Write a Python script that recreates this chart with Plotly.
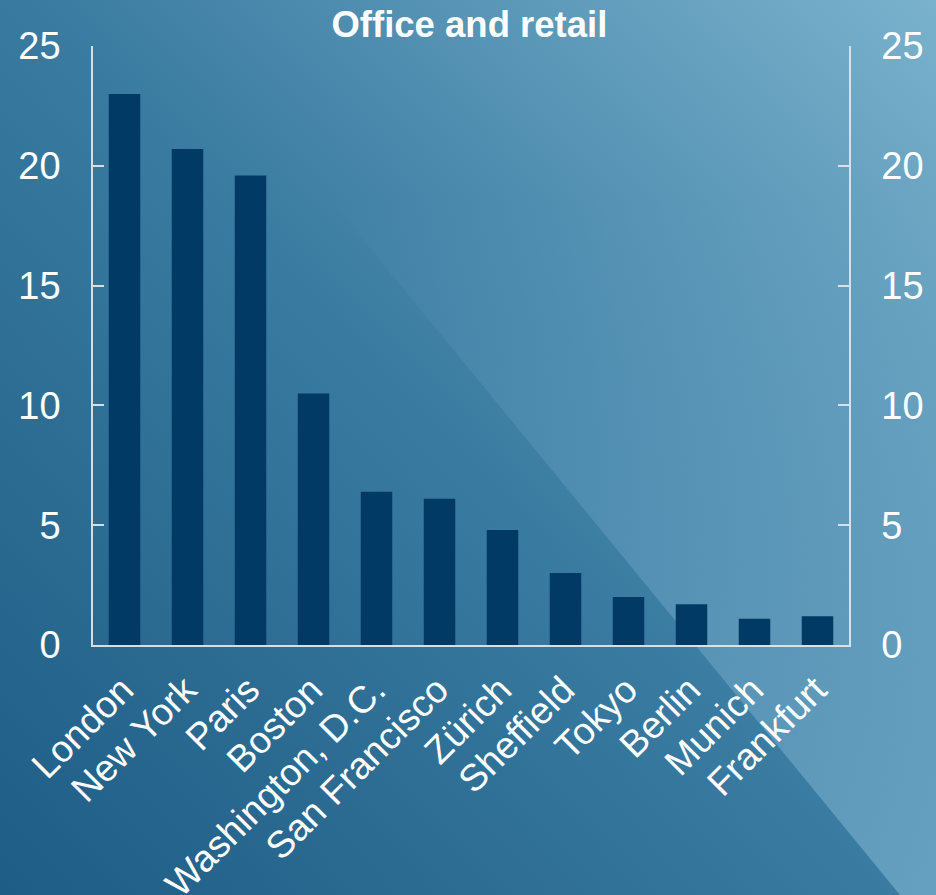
import base64
import plotly.graph_objects as go

cities = ["London", "New York", "Paris", "Boston", "Washington, D.C.", "San Francisco",
          "Zürich", "Sheffield", "Tokyo", "Berlin", "Munich", "Frankfurt"]
values = [23.0, 20.7, 19.6, 10.5, 6.4, 6.1, 4.8, 3.0, 2.0, 1.7, 1.1, 1.2]
y_ticks = [0, 5, 10, 15, 20, 25]
title_text = "Office and retail"

W, H = 936, 895
ml, mr, mt, mb = 93, 87, 46, 250
pw, ph = W - ml - mr, H - mt - mb

svg = f'''<svg xmlns="http://www.w3.org/2000/svg" width="{W}" height="{H}" viewBox="0 0 {W} {H}">
<defs>
<linearGradient id="g" gradientUnits="userSpaceOnUse" x1="0" y1="{H}" x2="{W}" y2="0">
<stop offset="0" stop-color="#1e5d85"/>
<stop offset="0.5" stop-color="#3a7ba1"/>
<stop offset="1" stop-color="#7ab2cd"/>
</linearGradient>
<linearGradient id="o" gradientUnits="userSpaceOnUse" x1="0" y1="0" x2="0" y2="{H}">
<stop offset="0" stop-color="#9fd0e8" stop-opacity="0"/>
<stop offset="0.22" stop-color="#9fd0e8" stop-opacity="0"/>
<stop offset="0.36" stop-color="#9fd0e8" stop-opacity="0.07"/>
<stop offset="1" stop-color="#9fd0e8" stop-opacity="0.42"/>
</linearGradient>
</defs>
<rect width="{W}" height="{H}" fill="url(#g)"/>
<polygon points="167,0 {W},0 {W},{H} 900,{H}" fill="url(#o)"/>
</svg>'''
bg_src = "data:image/svg+xml;base64," + base64.b64encode(svg.encode("utf-8")).decode("ascii")

FONT = "Liberation Sans, Arial, sans-serif"
AXC = "rgba(225,228,232,0.95)"

fig = go.Figure()
fig.add_trace(go.Bar(x=cities, y=values, marker=dict(color="#023a66", line=dict(width=0)),
                     hoverinfo="skip", showlegend=False))
fig.add_trace(go.Scatter(x=cities, y=values, yaxis="y2", mode="markers",
                         marker=dict(opacity=0), hoverinfo="skip", showlegend=False))

yaxis_common = dict(range=[0, 25], tickvals=y_ticks, ticks="inside", ticklen=11,
                    tickwidth=1.5, tickcolor=AXC, showline=True, linecolor=AXC,
                    linewidth=1.5, showgrid=False, zeroline=False, automargin=False,
                    tickfont=dict(size=38, color="white", family=FONT),
                    ticklabelstandoff=23, fixedrange=True)

fig.update_layout(
    width=W, height=H,
    margin=dict(l=ml, r=mr, t=mt, b=mb, pad=0, autoexpand=False),
    paper_bgcolor="#3a7ba1",
    plot_bgcolor="rgba(0,0,0,0)",
    bargap=0.5,
    title=dict(text=f"<b>{title_text}</b>", x=0.5015, xref="container", xanchor="center",
               y=1 - 24.5 / H, yref="container", yanchor="middle",
               font=dict(size=36.5, color="white", family=FONT)),
    xaxis=dict(showline=True, linecolor=AXC, linewidth=1.5, ticks="", showgrid=False,
               range=[-0.5, len(cities) - 0.5],
               tickangle=-45, tickfont=dict(size=37.5, color="white", family=FONT),
               automargin=False, ticklabelstandoff=6, ticklabelshift=-2, fixedrange=True),
    yaxis=dict(side="left", **yaxis_common),
    yaxis2=dict(side="right", overlaying="y", anchor="x", **yaxis_common),
    images=[dict(source=bg_src, xref="paper", yref="paper", x=-ml / pw, y=1 + mt / ph,
                 sizex=W / pw, sizey=H / ph, xanchor="left", yanchor="top",
                 sizing="stretch", layer="below")],
    showlegend=False,
)

fig.write_html("out.html")
